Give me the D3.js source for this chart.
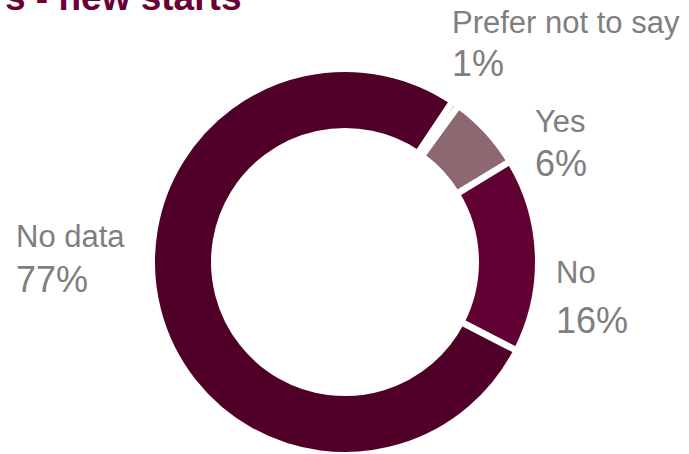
<!DOCTYPE html>
<html>
<head>
<meta charset="utf-8">
<script src="https://cdn.jsdelivr.net/npm/d3@7"></script>
<style>
html,body{margin:0;padding:0;background:#fff;overflow:hidden;}
svg{display:block;}
</style>
</head>
<body>
<svg id="chart" width="689" height="454"></svg>
<script>
// Data
const categories = ["Prefer not to say", "Yes", "No", "No data"];
const values = [0.6, 6.3, 16.3, 76.8];
const titleText = "s - new starts";

// Styles / layout (kept separate from data)
const colors = {"Prefer not to say": "#8d6870", "Yes": "#8d6870", "No": "#610032", "No data": "#500028"};
const labelPos = {
  "Prefer not to say": {x: 452, y1: 33, y2: 76},
  "Yes": {x: 535, y1: 132, y2: 176},
  "No": {x: 556, y1: 283, y2: 333},
  "No data": {x: 16, y1: 247, y2: 292}
};

const svg = d3.select("#chart");
const cx = 345, cy = 262;
const sw = 6.5;
const outerR = 190 + sw / 2, innerR = 134 - sw / 2;

const data = categories.map((c, i) => ({cat: c, value: values[i]}));
const start = 33.8 * Math.PI / 180;
const pie = d3.pie().value(d => d.value).sort(null).startAngle(start).endAngle(start + 2 * Math.PI);
const arc = d3.arc().innerRadius(innerR).outerRadius(outerR);

const g = svg.append("g").attr("transform", `translate(${cx},${cy})`);
g.selectAll("path").data(pie(data)).join("path")
  .attr("d", arc)
  .attr("fill", d => colors[d.data.cat])
  .attr("stroke", "#fff")
  .attr("stroke-width", sw)
  .attr("stroke-linejoin", "miter");

// Title (clipped at top, as in the reference)
svg.append("text")
  .attr("x", 5).attr("y", 10)
  .attr("font-family", "Liberation Sans, Arial, sans-serif")
  .attr("font-weight", "bold")
  .attr("font-size", 37)
  .attr("fill", "#6b0035")
  .text(titleText);

const fmt = v => Math.round(v) + "%";
const lab = svg.append("g").attr("font-family", "Liberation Sans, Arial, sans-serif").attr("fill", "#7f7f7f");
data.forEach(d => {
  const p = labelPos[d.cat];
  lab.append("text").attr("x", p.x).attr("y", p.y1).attr("font-size", 31).text(d.cat);
  lab.append("text").attr("x", p.x).attr("y", p.y2).attr("font-size", 36).text(fmt(d.value));
});
</script>
</body>
</html>
